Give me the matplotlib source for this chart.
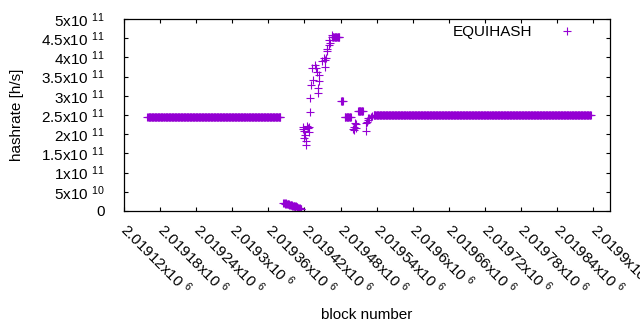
import numpy as np
import matplotlib
matplotlib.use("Agg")
import matplotlib.pyplot as plt

plt.rcParams['font.family'] = ['Liberation Sans', 'DejaVu Sans']
plt.rcParams['mathtext.fontset'] = 'custom'
plt.rcParams['mathtext.rm'] = 'Liberation Sans'
plt.rcParams['mathtext.it'] = 'Liberation Sans'
plt.rcParams['mathtext.bf'] = 'Liberation Sans'

# constant-rate runs: start block, end block, hashrate
run_starts = [2019159, 2019466, 2019481, 2019487, 2019509, 2019535]
run_ends = [2019380, 2019478, 2019484, 2019497, 2019517, 2019896]
run_rates = [2.44e11, 4.53e11, 2.86e11, 2.44e11, 2.60e11, 2.50e11]

# low segment after the first plateau
low_blocks = list(range(2019385, 2019416))
low_rates = [2.1e10, 2.2e10, 2.0e10, 1.9e10, 2.0e10, 1.8e10, 1.9e10, 1.7e10,
             1.8e10, 1.6e10, 1.7e10, 1.5e10, 1.6e10, 1.5e10, 1.4e10, 1.5e10,
             1.3e10, 1.4e10, 1.2e10, 1.3e10, 1.1e10, 1.2e10, 1.0e10, 1.0e10,
             0.9e10, 0.8e10, 0.8e10, 0.7e10, 0.6e10, 0.5e10, 0.4e10]

# scattered transition points
scatter_blocks = [2019417, 2019418, 2019419, 2019420, 2019421, 2019422, 2019423,
                  2019425, 2019426, 2019427, 2019428, 2019429, 2019430, 2019431,
                  2019432, 2019434, 2019437, 2019439, 2019441, 2019442, 2019443,
                  2019444, 2019445, 2019449, 2019453, 2019454, 2019455, 2019456,
                  2019457, 2019458, 2019460, 2019461, 2019462, 2019465,
                  2019501, 2019502, 2019503, 2019504, 2019505, 2019506,
                  2019522, 2019523, 2019524, 2019525, 2019526, 2019528,
                  2019530, 2019532]
scatter_rates = [2.18e11, 2.13e11, 1.90e11, 2.08e11, 1.97e11, 1.83e11, 1.71e11,
                 2.22e11, 2.15e11, 2.06e11, 2.19e11, 2.58e11, 2.94e11, 3.27e11,
                 3.72e11, 3.40e11, 3.80e11, 3.72e11, 3.63e11, 3.07e11, 3.20e11,
                 3.39e11, 3.55e11, 3.90e11, 3.98e11, 3.93e11, 3.74e11, 3.98e11,
                 4.17e11, 4.23e11, 4.31e11, 4.46e11, 4.37e11, 4.59e11,
                 2.13e11, 2.19e11, 2.11e11, 2.30e11, 2.27e11, 2.16e11,
                 2.08e11, 2.28e11, 2.33e11, 2.37e11, 2.41e11, 2.43e11,
                 2.46e11, 2.48e11]

x_ticks = [2019120, 2019180, 2019240, 2019300, 2019360, 2019420, 2019480,
           2019540, 2019600, 2019660, 2019720, 2019780, 2019840, 2019900]
y_ticks = [0, 5e10, 1e11, 1.5e11, 2e11, 2.5e11, 3e11, 3.5e11, 4e11, 4.5e11, 5e11]
y_labels = ['0', '5x10 $^{10}$', '1x10 $^{11}$', '1.5x10 $^{11}$',
            '2x10 $^{11}$', '2.5x10 $^{11}$', '3x10 $^{11}$',
            '3.5x10 $^{11}$', '4x10 $^{11}$', '4.5x10 $^{11}$',
            '5x10 $^{11}$']

blocks = []
rates = []
for s, e, r in zip(run_starts, run_ends, run_rates):
    b = np.arange(s, e + 1)
    blocks.append(b)
    rates.append(np.full(len(b), r))
blocks.append(np.array(low_blocks))
rates.append(np.array(low_rates))
blocks.append(np.array(scatter_blocks))
rates.append(np.array(scatter_rates))
blocks = np.concatenate(blocks)
rates = np.concatenate(rates)
order = np.argsort(blocks, kind='stable')
blocks = blocks[order]
rates = rates[order]

color = '#9400D3'
fig = plt.figure(figsize=(6.4, 3.3), dpi=100)
ax = fig.add_axes([124 / 640, 1 - 211 / 330, 486 / 640, 192 / 330])
ax.plot(blocks, rates, linestyle='none', marker='+', markersize=5.5,
        markeredgewidth=0.8, color=color, label='EQUIHASH')

ax.set_xlim(2019120, 2019928)
ax.set_ylim(0, 5e11)
ax.set_xticks(x_ticks)
ax.set_xticklabels([f'{v / 1e6:g}x10 ' + r'$^{6}$' for v in x_ticks],
                   rotation=-45, ha='left', va='center', rotation_mode='anchor')
ax.set_yticks(y_ticks)
ax.set_yticklabels(y_labels)
ax.tick_params(axis='both', which='both', direction='in', length=3.2, width=0.8,
               top=True, right=True, labelsize=11, colors='black')
ax.tick_params(axis='x', pad=11)
ax.tick_params(axis='y', pad=14)
for sp in ax.spines.values():
    sp.set_linewidth(0.9)

ax.set_ylabel('hashrate [h/s]', fontsize=11)
ax.yaxis.set_label_coords(-0.206, 0.5)
ax.set_xlabel('block number', fontsize=11)
ax.xaxis.set_label_coords(0.5, -0.505)

leg = ax.legend(loc='center right', bbox_to_anchor=(582 / 640, 1 - 32 / 330),
                bbox_transform=fig.transFigure, frameon=False, markerfirst=False,
                fontsize=11, borderpad=0, borderaxespad=0, handletextpad=1.24,
                handlelength=2.0)

fig.savefig('out.png', dpi=100)
